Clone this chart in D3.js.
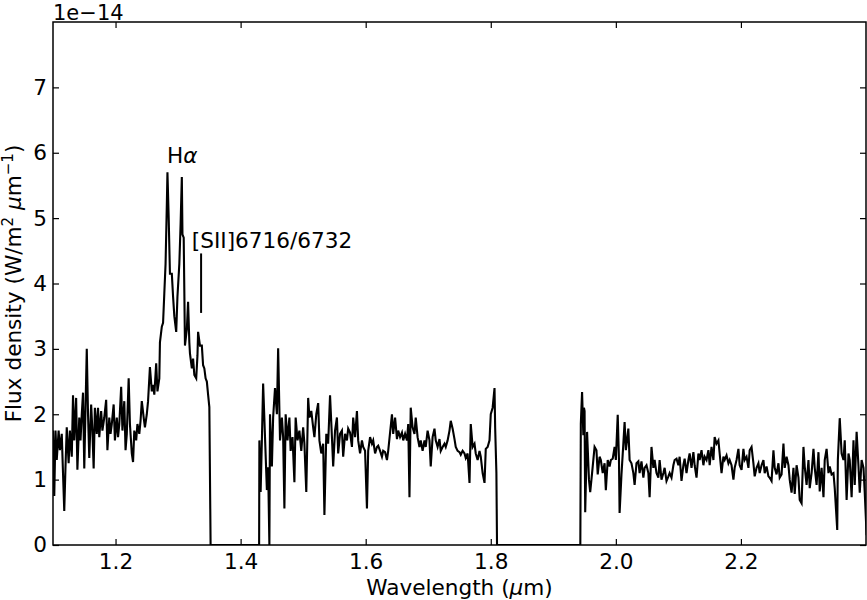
<!DOCTYPE html>
<html>
<head>
<meta charset="utf-8">
<script src="https://cdn.jsdelivr.net/npm/d3@7/dist/d3.min.js"></script>
<style>
html,body{margin:0;padding:0;background:#fff;}
svg{display:block;}
text{font-family:"DejaVu Sans",sans-serif;fill:#000;}
</style>
</head>
<body>
<svg id="chart" width="867" height="600"></svg>
<script>
// ---- data (wavelength in micron, flux in units of 1e-14 W/m^2/micron) ----
const wave1 = [1.100,1.102,1.104,1.106,1.109,1.111,1.114,1.116,1.118,1.120,1.122,1.125,1.127,1.130,1.132,1.134,1.137,1.139,1.142,1.144,1.146,1.148,1.150,1.152,1.154,1.156,1.158,1.161,1.163,1.165,1.167,1.170,1.172,1.174,1.177,1.179,1.182,1.185,1.187,1.190,1.192,1.194,1.197,1.199,1.202,1.204,1.206,1.209,1.211,1.214,1.216,1.218,1.221,1.223,1.226,1.228,1.230,1.233,1.235,1.238,1.240,1.242,1.245,1.247,1.250,1.252,1.255,1.258,1.260,1.262,1.265,1.267,1.270,1.271,1.274,1.276,1.278,1.280,1.282,1.283,1.285,1.287,1.290,1.292,1.294,1.297,1.299,1.302,1.304,1.306,1.307,1.309,1.311,1.314,1.316,1.318,1.319,1.322,1.324,1.326,1.329,1.331,1.332,1.335,1.338,1.340,1.342,1.344,1.346,1.348,1.350,1.352];
const flux1 = [1.75,0.75,1.75,1.30,1.75,1.45,1.70,1.10,0.52,1.20,1.80,1.25,1.75,1.35,2.29,1.60,2.25,1.15,1.95,1.60,2.00,2.33,1.17,2.10,3.00,2.00,1.33,2.15,1.75,1.17,2.10,1.70,2.10,1.65,2.05,1.75,1.95,2.22,1.45,1.95,1.70,1.85,2.15,1.60,1.95,1.65,1.85,2.42,1.75,2.20,1.45,1.70,2.55,1.85,1.40,1.27,1.75,1.60,1.85,1.70,1.90,2.20,1.95,1.80,2.00,2.20,2.72,2.35,2.45,2.30,2.78,2.35,2.55,3.10,3.34,3.40,3.85,4.30,5.20,5.70,5.00,4.15,4.15,3.80,3.50,3.26,3.80,4.30,4.90,5.63,4.75,4.70,3.05,3.30,3.72,3.10,2.93,2.70,2.85,2.60,2.55,2.90,3.26,3.05,3.05,2.75,2.70,2.55,2.50,2.30,2.11,0.00];

const wave2 = [1.4296,1.430,1.432,1.434,1.436,1.439,1.442,1.444,1.446,1.447,1.450,1.452,1.455,1.458,1.460,1.463,1.466,1.468,1.470,1.472,1.475,1.478,1.480,1.483,1.486,1.488,1.491,1.494,1.497,1.500,1.502,1.505,1.508,1.510,1.513,1.516,1.518,1.521,1.524,1.526,1.529,1.532,1.534,1.537,1.540,1.543,1.546,1.548,1.551,1.554,1.556,1.559,1.562,1.564,1.567,1.570,1.572,1.575,1.578,1.580,1.583,1.586,1.588,1.591,1.594,1.596,1.599,1.602,1.604,1.607,1.610,1.612,1.615,1.618,1.620,1.623,1.626,1.628,1.631,1.634,1.636,1.639,1.642,1.644,1.647,1.650,1.652,1.655,1.658,1.660,1.663,1.666,1.668,1.670,1.672,1.675,1.678,1.680,1.683,1.686,1.688,1.691,1.694,1.696,1.699,1.702,1.704,1.707,1.710,1.712,1.715,1.718,1.720,1.723,1.726,1.728,1.731,1.734,1.736,1.739,1.742,1.744,1.747,1.750,1.752,1.755,1.758,1.760,1.763,1.766,1.768,1.771,1.774,1.776,1.779,1.782,1.784,1.787,1.790,1.792,1.795,1.798,1.800,1.803,1.806,1.807,1.809,1.810];
const flux2 = [0.00,1.60,0.81,1.60,2.47,1.65,0.84,1.19,0.00,2.00,1.20,1.95,2.40,2.00,3.01,1.60,1.95,1.65,0.56,2.00,1.60,1.95,1.44,1.65,0.96,1.95,1.60,1.75,1.44,1.80,1.55,0.81,2.25,1.95,2.05,1.80,1.65,2.00,2.17,1.60,1.40,1.55,0.46,1.70,1.55,2.29,1.65,1.20,1.75,1.95,1.40,1.70,1.75,1.35,1.70,1.60,1.78,1.72,1.50,1.95,1.65,2.05,1.60,1.40,1.60,1.50,1.44,0.56,1.44,1.65,1.55,1.60,1.40,1.50,1.52,1.44,1.35,1.44,1.42,1.30,1.44,1.72,2.00,1.70,1.95,1.62,1.75,1.65,1.72,1.60,1.70,1.60,1.85,0.73,2.10,1.80,1.70,1.95,1.65,1.50,1.60,1.44,1.60,1.50,1.75,1.60,1.20,1.65,1.78,1.60,1.50,1.62,1.44,1.50,1.55,1.50,1.60,1.75,1.90,1.78,1.62,1.50,1.44,1.42,1.38,1.44,1.40,1.33,1.40,0.95,1.85,1.50,1.55,1.40,1.30,1.44,1.35,1.10,0.95,1.47,1.50,1.60,2.00,2.10,2.40,1.80,1.10,0.00];

const wave3 = [1.9432,1.944,1.946,1.948,1.949,1.950,1.951,1.954,1.957,1.959,1.962,1.966,1.969,1.971,1.974,1.976,1.979,1.982,1.984,1.987,1.990,1.992,1.995,1.998,2.000,2.003,2.005,2.006,2.009,2.012,2.014,2.016,2.020,2.022,2.025,2.028,2.030,2.033,2.036,2.038,2.041,2.044,2.046,2.049,2.052,2.054,2.057,2.060,2.062,2.065,2.068,2.070,2.073,2.076,2.078,2.081,2.084,2.086,2.089,2.092,2.094,2.097,2.100,2.102,2.105,2.108,2.110,2.113,2.116,2.118,2.121,2.124,2.126,2.129,2.132,2.134,2.137,2.140,2.142,2.145,2.148,2.150,2.153,2.156,2.158,2.161,2.164,2.166,2.169,2.172,2.174,2.177,2.180,2.182,2.185,2.188,2.190,2.193,2.196,2.198,2.201,2.204,2.206,2.209,2.212,2.214,2.217,2.220,2.222,2.225,2.228,2.230,2.233,2.236,2.238,2.241,2.244,2.246,2.249,2.252,2.254,2.257,2.260,2.262,2.265,2.268,2.270,2.273,2.276,2.278,2.281,2.284,2.286,2.289,2.292,2.294,2.297,2.300,2.302,2.305,2.308,2.310,2.313,2.316,2.318,2.321,2.324,2.326,2.329,2.332,2.334,2.337,2.340,2.342,2.345,2.348,2.350,2.354,2.355,2.358,2.361,2.364,2.366,2.369,2.372,2.374,2.377,2.380,2.382,2.385,2.388,2.390,2.393,2.396,2.398,2.401];
const flux3 = [0.00,1.86,2.34,1.68,2.10,2.05,0.50,1.73,1.00,0.81,1.10,1.50,1.45,1.08,1.35,1.30,1.10,1.25,0.84,1.30,1.20,1.30,1.32,1.50,1.30,1.99,1.30,0.49,1.08,1.55,1.88,1.45,1.78,1.30,1.25,1.10,0.92,1.25,1.28,1.10,1.28,1.03,1.18,1.22,1.10,0.73,1.50,1.18,1.30,1.10,1.03,1.30,1.00,1.10,1.18,0.98,1.05,1.10,1.03,1.22,1.30,1.32,1.22,1.35,0.98,1.22,1.32,1.10,1.30,1.40,1.18,1.42,1.22,1.03,1.40,1.30,1.45,1.22,1.35,1.30,1.45,1.22,1.50,1.30,1.65,1.55,1.60,1.40,1.10,1.35,1.30,1.37,1.25,1.30,1.22,1.00,1.18,1.30,1.47,1.22,1.15,1.47,1.30,1.35,1.18,1.45,1.50,1.25,1.05,1.18,1.25,1.10,1.22,1.30,1.10,1.20,1.05,1.03,0.98,1.45,1.18,1.08,1.25,1.03,1.08,1.55,1.18,1.35,1.22,1.00,0.80,1.18,0.78,1.22,1.03,0.69,0.64,1.50,1.20,0.92,1.30,0.87,1.10,1.47,1.18,0.92,1.42,0.82,1.18,0.73,1.30,1.47,1.10,1.20,1.08,1.10,0.87,0.23,1.30,1.94,1.40,1.30,1.60,0.69,1.40,1.30,0.73,1.60,0.92,1.73,1.20,0.80,1.30,1.18,0.80,0.15];

const xTicks = [1.2, 1.4, 1.6, 1.8, 2.0, 2.2];
const xTickLabels = ["1.2", "1.4", "1.6", "1.8", "2.0", "2.2"];
const yTicks = [0, 1, 2, 3, 4, 5, 6, 7];
const yTickLabels = ["0", "1", "2", "3", "4", "5", "6", "7"];
const xDomain = [1.1, 2.4];
const yDomain = [0, 8];

// annotations
const haLabelPos = [1.2824, 5.84];
const siiLabelPos = [1.3219, 4.54];
const siiMarker = [1.3368, 3.55, 4.46];

// ---- drawing ----
const svg = d3.select("#chart");
const margin = {left: 53, right: 1, top: 22, bottom: 55};
const W = 867, H = 600;
const x = d3.scaleLinear().domain(xDomain).range([margin.left, W - margin.right]);
const y = d3.scaleLinear().domain(yDomain).range([H - margin.bottom, margin.top]);

const FS = 21.6;
const FSsup = 15;

svg.append("defs").append("clipPath").attr("id", "clip")
  .append("rect").attr("x", x(xDomain[0])).attr("y", y(yDomain[1]))
  .attr("width", x(xDomain[1]) - x(xDomain[0])).attr("height", y(yDomain[0]) - y(yDomain[1]));

// series: segments joined with zeros through the gaps
const pts = [];
wave1.forEach((w, i) => pts.push([w, flux1[i]]));
wave2.forEach((w, i) => pts.push([w, flux2[i]]));
wave3.forEach((w, i) => pts.push([w, flux3[i]]));

const line = d3.line().x(d => x(d[0])).y(d => y(d[1]));
svg.append("path").datum(pts)
  .attr("clip-path", "url(#clip)")
  .attr("fill", "none").attr("stroke", "#000").attr("stroke-width", 2.1)
  .attr("stroke-linejoin", "miter").attr("stroke-miterlimit", 4)
  .attr("d", line);

// axes (ticks inward, all four sides)
const tickLen = 6;
const axB = d3.axisBottom(x).tickValues(xTicks).tickFormat((d, i) => xTickLabels[i]).tickSizeInner(-tickLen).tickSizeOuter(0).tickPadding(9);
const axT = d3.axisTop(x).tickValues(xTicks).tickFormat("").tickSizeInner(-tickLen).tickSizeOuter(0);
const axL = d3.axisLeft(y).tickValues(yTicks).tickFormat((d, i) => yTickLabels[i]).tickSizeInner(-tickLen).tickSizeOuter(0).tickPadding(6);
const axR = d3.axisRight(y).tickValues(yTicks).tickFormat("").tickSizeInner(-tickLen).tickSizeOuter(0);

function style(g) {
  g.select(".domain").remove();
  g.selectAll(".tick line").attr("stroke", "#000").attr("stroke-width", 1.2);
  g.selectAll(".tick text").attr("font-family", "DejaVu Sans").attr("font-size", FS).attr("fill", "#000");
}
svg.append("g").attr("transform", `translate(0,${y(0)})`).call(axB).call(style);
svg.append("g").attr("transform", `translate(0,${y(yDomain[1])})`).call(axT).call(style);
svg.append("g").attr("transform", `translate(${x(xDomain[0])},0)`).call(axL).call(style);
svg.append("g").attr("transform", `translate(${x(xDomain[1])},0)`).call(axR).call(style);

// frame
svg.append("rect")
  .attr("x", x(xDomain[0])).attr("y", y(yDomain[1]))
  .attr("width", x(xDomain[1]) - x(xDomain[0])).attr("height", y(yDomain[0]) - y(yDomain[1]))
  .attr("fill", "none").attr("stroke", "#000").attr("stroke-width", 1.5);

// offset text
svg.append("text").attr("x", x(xDomain[0])).attr("y", 19.5)
  .attr("font-size", 21).text("1e\u221214");

// x label
const xl = svg.append("text").attr("x", (x(xDomain[0]) + x(xDomain[1])) / 2).attr("y", 595)
  .attr("text-anchor", "middle").attr("font-size", FS);
xl.append("tspan").text("Wavelength (");
xl.append("tspan").attr("font-style", "italic").text("\u03bc");
xl.append("tspan").text("m)");

// y label
const yl = svg.append("text")
  .attr("transform", `translate(21,${(y(0) + y(yDomain[1])) / 2}) rotate(-90)`)
  .attr("text-anchor", "middle").attr("font-size", FS);
yl.append("tspan").text("Flux density (W/m");
yl.append("tspan").attr("font-size", FSsup).attr("dy", -8).text("2");
yl.append("tspan").attr("dy", 8).text(" ");
yl.append("tspan").attr("font-style", "italic").text("\u03bc");
yl.append("tspan").text("m");
yl.append("tspan").attr("font-size", FSsup).attr("dy", -8).text("\u22121");
yl.append("tspan").attr("dy", 8).text(")");

// annotations
const ha = svg.append("text").attr("x", x(haLabelPos[0])).attr("y", y(haLabelPos[1])).attr("font-size", FS);
ha.append("tspan").text("H");
ha.append("tspan").attr("font-style", "italic").text("\u03b1");

svg.append("text").attr("x", x(siiLabelPos[0])).attr("y", y(siiLabelPos[1])).attr("font-size", FS)
  .text("[SII]6716/6732");
svg.append("line")
  .attr("x1", x(siiMarker[0])).attr("x2", x(siiMarker[0]))
  .attr("y1", y(siiMarker[1])).attr("y2", y(siiMarker[2]))
  .attr("stroke", "#000").attr("stroke-width", 2);
</script>
</body>
</html>
